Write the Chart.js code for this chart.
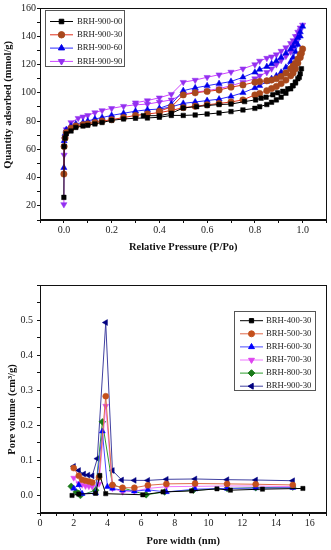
<!DOCTYPE html>
<html>
<head>
<meta charset="utf-8">
<script src="https://cdn.jsdelivr.net/npm/chart.js@4.4.0/dist/chart.umd.min.js"></script>
<style>
  body { margin: 0; background: #fff; }
  .panel { position: absolute; left: 0; width: 331px; height: 275px; }
</style>
</head>
<body>
<div class="panel" style="top:0"><canvas id="chartIsotherm" width="331" height="275"></canvas></div>
<div class="panel" style="top:275px"><canvas id="chartPores" width="331" height="275"></canvas></div>
<script>
// Isotermas (adsorção + dessorção) - P/Po x quantidade adsorvida
const iso00x = [0, 0.001, 0.005, 0.01, 0.03, 0.05, 0.08, 0.1, 0.13, 0.16, 0.2, 0.25, 0.3, 0.35, 0.4, 0.45, 0.5, 0.55, 0.6, 0.65, 0.7, 0.75, 0.8, 0.82, 0.85, 0.87, 0.89, 0.91, 0.93, 0.95, 0.96, 0.97, 0.98, 0.99, 0.995,
  0.986, 0.97, 0.958, 0.938, 0.917, 0.895, 0.875, 0.847, 0.826, 0.803, 0.757, 0.7, 0.65, 0.6, 0.556, 0.5, 0.45, 0.4, 0.333];
const iso00y = [26, 62, 68, 71, 73, 75.5, 76.5, 77, 78, 79, 80.5, 81.5, 82, 82.2, 82.7, 84, 84, 84.3, 85, 85.7, 86.7, 87.9, 89, 90.2, 91.7, 93.3, 95, 96.9, 99.7, 102.8, 105, 107.6, 110, 113.5, 117,
  111, 107, 105, 102.8, 101, 100, 98.6, 96.9, 96.2, 95, 93.8, 92, 91.7, 91, 90.2, 89.3, 85.5, 83.8, 83.8];

const iso30x = [0, 0.001, 0.005, 0.01, 0.03, 0.05, 0.08, 0.1, 0.13, 0.16, 0.2, 0.25, 0.3, 0.35, 0.4, 0.45, 0.5, 0.55, 0.6, 0.65, 0.7, 0.75, 0.8, 0.82, 0.85, 0.87, 0.89, 0.91, 0.93, 0.95, 0.96, 0.97, 0.98, 0.99, 0.995, 1.0,
  0.99, 0.98, 0.97, 0.96, 0.95, 0.93, 0.91, 0.89, 0.87, 0.85, 0.82, 0.8, 0.75, 0.7, 0.65, 0.6, 0.55, 0.5, 0.45, 0.4];
const iso30y = [42.5, 62, 68, 72, 75, 76.5, 77.5, 78, 79, 80, 81, 82.5, 84, 85, 86, 87.5, 89.5, 90.5, 91.5, 92.5, 93.5, 95, 98.5, 99.5, 101.5, 103, 104.5, 106.5, 109, 112, 114, 117, 121, 125, 128, 131,
  127, 124, 121, 119, 117, 114, 111.5, 110, 109, 108.5, 108, 107.5, 105.5, 104, 102, 101, 100, 98.5, 90, 87];

const iso60x = [0, 0.001, 0.005, 0.01, 0.03, 0.05, 0.08, 0.1, 0.13, 0.16, 0.2, 0.25, 0.3, 0.35, 0.4, 0.45, 0.5, 0.55, 0.6, 0.65, 0.7, 0.75, 0.8, 0.82, 0.85, 0.87, 0.89, 0.91, 0.93, 0.95, 0.96, 0.97, 0.98, 0.99, 1.0,
  0.99, 0.98, 0.97, 0.96, 0.95, 0.93, 0.91, 0.89, 0.87, 0.85, 0.82, 0.8, 0.75, 0.7, 0.65, 0.6, 0.55, 0.5, 0.45, 0.4];
const iso60y = [47, 66, 71, 74, 76.5, 78, 79, 80, 81.5, 82.5, 84, 85.5, 87, 88, 88.5, 90, 92.5, 93.5, 94.5, 95.5, 97.5, 100, 103.5, 105, 108, 110, 112, 114.5, 118, 122, 125, 129, 134, 140, 147,
  143, 139, 136, 133, 131, 128, 125, 122.5, 120.5, 118.5, 116.5, 114.5, 111, 108, 106.5, 105, 103.5, 101.5, 92, 89];

const iso90x = [0, 0.001, 0.003, 0.01, 0.03, 0.06, 0.08, 0.1, 0.13, 0.16, 0.2, 0.25, 0.3, 0.35, 0.4, 0.45, 0.5, 0.55, 0.6, 0.65, 0.7, 0.75, 0.8, 0.82, 0.85, 0.87, 0.89, 0.91, 0.93, 0.95, 0.96, 0.97, 0.98, 0.99, 1.0,
  0.99, 0.98, 0.97, 0.96, 0.95, 0.93, 0.91, 0.89, 0.87, 0.85, 0.82, 0.8, 0.75, 0.7, 0.65, 0.6, 0.55, 0.5, 0.45, 0.4, 0.35, 0.3];
const iso90y = [21, 56, 67, 74, 79, 82, 83, 84, 86, 87.5, 89, 90.5, 91.5, 92, 93.5, 95, 99, 100.5, 101.5, 103, 105, 107.5, 110, 112, 114.5, 117, 120, 123, 126, 129, 132, 136, 140, 144, 148,
  146, 143, 140, 137, 135, 132, 129.5, 127, 125.5, 124.5, 122.5, 120, 117, 114.7, 112.8, 111, 109, 107.5, 99, 96.5, 94.5, 93];

// Distribuição de poros - largura (nm) x volume
const pw400x = [1.9, 2.3, 3.3, 3.55, 3.9, 6.1, 7.3, 9.0, 10.5, 11.3, 13.2, 15.6];
const pw400y = [0.0, 0.004, 0.006, 0.057, 0.005, 0.002, 0.01, 0.013, 0.019, 0.015, 0.018, 0.02];
const pw500x = [2.0, 2.3, 2.5, 2.7, 2.9, 3.1, 3.5, 3.9, 4.3, 4.9, 5.6, 6.4, 7.5, 9.2, 11.1, 12.8, 15.0];
const pw500y = [0.078, 0.056, 0.045, 0.042, 0.04, 0.037, 0.052, 0.283, 0.03, 0.022, 0.022, 0.029, 0.033, 0.034, 0.033, 0.032, 0.03];
const pw600x = [2.0, 2.3, 2.5, 3.3, 3.7, 4.0, 4.3, 4.9, 5.6, 6.4, 7.5, 9.2, 11.1, 12.8, 15.0];
const pw600y = [0.02, 0.03, 0.005, 0.007, 0.183, 0.025, 0.02, 0.015, 0.012, 0.016, 0.01, 0.018, 0.02, 0.021, 0.022];
const pw700x = [2.0, 2.3, 2.5, 2.7, 2.9, 3.1, 3.5, 3.9, 4.3, 4.9, 5.6, 6.4, 7.5, 9.2, 11.1, 12.8, 15.0];
const pw700y = [0.05, 0.034, 0.03, 0.027, 0.026, 0.025, 0.033, 0.255, 0.02, 0.01, 0.012, 0.02, 0.025, 0.026, 0.027, 0.027, 0.025];
const pw800x = [1.85, 2.15, 2.3, 2.4, 3.3, 3.7, 4.3, 6.3, 7.4, 9.1, 11.1, 12.8, 15.0];
const pw800y = [0.026, 0.01, 0.006, 0.0, 0.015, 0.21, 0.03, 0.002, 0.01, 0.015, 0.02, 0.022, 0.024];
const pw900x = [2.0, 2.3, 2.6, 2.85, 3.1, 3.4, 3.9, 4.3, 4.85, 5.6, 6.4, 7.5, 9.2, 11.1, 12.8, 15.0];
const pw900y = [0.083, 0.071, 0.061, 0.058, 0.056, 0.105, 0.493, 0.071, 0.044, 0.043, 0.043, 0.046, 0.047, 0.045, 0.044, 0.042];

const rotuloIso = ["BRH-900-00", "BRH-900-30", "BRH-900-60", "BRH-900-90"];
const rotuloPoros = ["BRH-400-30", "BRH-500-30", "BRH-600-30", "BRH-700-30", "BRH-800-30", "BRH-900-30"];

function pontos(xs, ys) {
  return xs.map((x, i) => ({ x: x, y: ys[i] }));
}

function serie(label, xs, ys, linha, marcador, estilo, rotacao, raio) {
  return {
    label: label,
    data: pontos(xs, ys),
    showLine: true,
    borderColor: linha,
    borderWidth: 1,
    backgroundColor: marcador,
    pointBackgroundColor: marcador,
    pointBorderColor: marcador,
    pointBorderWidth: 0.5,
    pointStyle: estilo,
    rotation: rotacao,
    pointRadius: raio,
  };
}

// moldura em volta da área do gráfico (estilo Origin)
const moldura = {
  id: "moldura",
  afterDraw(chart) {
    const { ctx, chartArea: a } = chart;
    ctx.save();
    ctx.strokeStyle = "#111";
    ctx.lineWidth = 1;
    ctx.strokeRect(Math.round(a.left) + 0.5, Math.round(a.top) + 0.5, Math.round(a.width) - 1, Math.round(a.height) - 1);
    ctx.restore();
  },
};

// legenda em caixa com linha + marcador
const legendaCaixa = {
  id: "legendaCaixa",
  afterDraw(chart, args, opts) {
    const ctx = chart.ctx;
    ctx.save();
    ctx.strokeStyle = "#555";
    ctx.lineWidth = 1;
    ctx.strokeRect(opts.left + 0.5, opts.top + 0.5, opts.width, opts.height);
    ctx.font = opts.fontSize + "px 'Liberation Serif', serif";
    ctx.textBaseline = "middle";
    chart.data.datasets.forEach((ds, i) => {
      const y = opts.top + opts.firstRow + i * opts.rowH;
      const x0 = opts.left + opts.linePad;
      ctx.strokeStyle = ds.borderColor;
      ctx.beginPath();
      ctx.moveTo(x0, y);
      ctx.lineTo(x0 + opts.lineLen, y);
      ctx.stroke();
      ctx.fillStyle = ds.pointBackgroundColor;
      ctx.strokeStyle = ds.pointBorderColor;
      Chart.helpers.drawPoint(ctx, {
        pointStyle: ds.pointStyle,
        rotation: ds.rotation,
        radius: ds.pointRadius,
        borderWidth: 0.5,
      }, x0 + opts.lineLen / 2, y);
      ctx.fillStyle = "#222";
      ctx.fillText(ds.label, x0 + opts.lineLen + opts.textGap, y);
    });
    ctx.restore();
  },
};

const fonteTicks = { family: "'Liberation Serif', serif", size: 10 };
const fonteTitulo = { family: "'Liberation Serif', serif", size: 10.5, weight: "bold" };

function eixo(min, max, passo, rotulo, titulo, tituloPad, tickPad, ajuste) {
  return {
    type: "linear",
    min: min,
    max: max,
    ticks: {
      stepSize: passo,
      autoSkip: false,
      maxRotation: 0,
      padding: tickPad,
      color: "#222",
      font: fonteTicks,
      callback: rotulo,
    },
    grid: { drawOnChartArea: false, drawTicks: true, tickLength: 3, color: "#111" },
    border: { display: true, color: "#111", width: 1 },
    title: { display: true, text: titulo, color: "#111", font: fonteTitulo, padding: tituloPad },
    afterFit: ajuste,
  };
}

// espaços não separáveis deslocam o título vertical como no original
const nbsp = "\u00a0";

new Chart(document.getElementById("chartIsotherm"), {
  type: "scatter",
  data: {
    datasets: [
      serie(rotuloIso[0], iso00x, iso00y, "#000000", "#000000", "rect", 0, 3.2),
      serie(rotuloIso[1], iso30x, iso30y, "#e0301c", "#a8481c", "circle", 0, 3.2),
      serie(rotuloIso[2], iso60x, iso60y, "#2a2aff", "#0000e8", "triangle", 0, 3.6),
      serie(rotuloIso[3], iso90x, iso90y, "#cc44ff", "#9330f0", "triangle", 180, 3.6),
    ],
  },
  options: {
    responsive: false,
    animation: false,
    devicePixelRatio: 1,
    layout: { padding: { left: 0, right: 3, top: 8, bottom: 21 } },
    scales: {
      x: eixo(-0.1, 1.1, 0.1, (v) => {
        const r = Math.round(v * 10);
        return r >= 0 && r <= 10 && r % 2 === 0 ? (r / 10).toFixed(1) : "";
      }, "Relative Pressure (P/Po)", { top: 0, bottom: 0 }, 1, (s) => { s.height = 34; }),
      y: eixo(10, 160, 10, (v) => {
        const r = Math.round(v);
        return r >= 20 && r % 20 === 0 ? String(r) : "";
      }, nbsp.repeat(7) + "Quantity adsorbed (mmol/g)", { top: 2, bottom: 0 }, 1, (s) => { s.width = 40; }),
    },
    plugins: {
      legend: { display: false },
      tooltip: { enabled: false },
      legendaCaixa: { left: 45, top: 10, width: 79, height: 56, firstRow: 11.5, rowH: 13.3, linePad: 5, lineLen: 23, textGap: 4, fontSize: 8.7 },
    },
  },
  plugins: [moldura, legendaCaixa],
});

new Chart(document.getElementById("chartPores"), {
  type: "scatter",
  data: {
    datasets: [
      serie(rotuloPoros[0], pw400x, pw400y, "#000000", "#000000", "rect", 0, 3),
      serie(rotuloPoros[1], pw500x, pw500y, "#e06a4a", "#c4501c", "circle", 0, 3),
      serie(rotuloPoros[2], pw600x, pw600y, "#4a4aff", "#0000ff", "triangle", 0, 3.4),
      serie(rotuloPoros[3], pw700x, pw700y, "#ee77ff", "#dd44ee", "triangle", 180, 3.4),
      serie(rotuloPoros[4], pw800x, pw800y, "#2e9e2e", "#1a7a1a", "rectRot", 0, 3.4),
      serie(rotuloPoros[5], pw900x, pw900y, "#4040a0", "#000080", "triangle", 270, 3.4),
    ],
  },
  options: {
    responsive: false,
    animation: false,
    devicePixelRatio: 1,
    layout: { padding: { left: 0, right: 4, top: 9, bottom: 2 } },
    scales: {
      x: eixo(0, 17, 1, (v) => {
        const r = Math.round(v);
        return r % 2 === 0 && r <= 16 ? String(r) : "";
      }, "Pore width (nm)", { top: 0, bottom: 0 }, 1, (s) => { s.height = 35; }),
      y: eixo(-0.05, 0.6, 0.05, (v) => {
        const r = Math.round(v * 100);
        return r >= 0 && r <= 50 && r % 10 === 0 ? (r / 100).toFixed(1) : "";
      }, "Pore volume (cm³/g)" + nbsp.repeat(8), { top: 6.4, bottom: 0 }, 4, (s) => { s.width = 40; }),
    },
    plugins: {
      legend: { display: false },
      tooltip: { enabled: false },
      legendaCaixa: { left: 234, top: 36, width: 81, height: 79, firstRow: 9.7, rowH: 13.1, linePad: 6, lineLen: 23, textGap: 3, fontSize: 8.7 },
    },
  },
  plugins: [moldura, legendaCaixa],
});
</script>
</body>
</html>
